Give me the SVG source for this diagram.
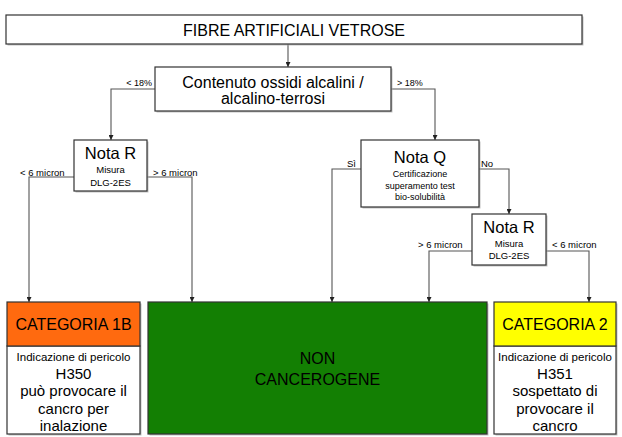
<svg xmlns="http://www.w3.org/2000/svg" width="622" height="437" viewBox="0 0 622 437">
<style>
text{font-family:"Liberation Sans",Arial,sans-serif;fill:#000}
.box{fill:#fff;stroke:#333;stroke-width:1.2}
.sh{fill:#aaa;opacity:.7}
.conn{fill:none;stroke:#555;stroke-width:1.1}
.big{font-size:16px}
.nota{font-size:16.5px}
.mid{font-size:15px}
.sm{font-size:9.5px}
.xs{font-size:9px}
.lab{font-size:11.5px}
.c{text-anchor:middle}
</style>
<defs>
<marker id="ah" viewBox="0 0 8 8" refX="8" refY="4" markerWidth="5" markerHeight="5" orient="auto" markerUnits="userSpaceOnUse">
<path d="M0,0 L8,4 L0,8 z" fill="#222"/>
</marker>
</defs>
<rect width="622" height="437" fill="#fff"/>

<g id="connectors">
<path class="conn" d="M288,44 V67" marker-end="url(#ah)"/>
<path class="conn" d="M155,89 H111 V140" marker-end="url(#ah)"/>
<path class="conn" d="M391,89 H435 V140" marker-end="url(#ah)"/>
<path class="conn" d="M74,177 H29 V302" marker-end="url(#ah)"/>
<path class="conn" d="M147,177 H192 V302" marker-end="url(#ah)"/>
<path class="conn" d="M361,169 H332 V302" marker-end="url(#ah)"/>
<path class="conn" d="M479,169 H509 V214" marker-end="url(#ah)"/>
<path class="conn" d="M472,251 H429 V302" marker-end="url(#ah)"/>
<path class="conn" d="M546,251 H589 V302" marker-end="url(#ah)"/>
<text class="xs" x="152" y="86" text-anchor="end">&lt; 18%</text>
<text class="xs" x="397" y="86">&gt; 18%</text>
<text class="sm" x="20" y="175.5">&lt; 6 micron</text>
<text class="sm" x="153" y="175.5">&gt; 6 micron</text>
<text class="sm" x="347" y="166.5">Sì</text>
<text class="sm" x="481" y="166.5">No</text>
<text class="sm" x="418" y="247.5">&gt; 6 micron</text>
<text class="sm" x="552" y="247.5">&lt; 6 micron</text>
</g>

<g id="fibre">
<rect class="sh" x="7.5" y="16.5" width="576" height="29"/>
<rect class="box" x="6" y="15" width="576" height="29"/>
<text class="big c" x="294" y="36">FIBRE ARTIFICIALI VETROSE</text>
</g>

<g id="contenuto">
<rect class="sh" x="156.5" y="68.5" width="236" height="44"/>
<rect class="box" x="155" y="67" width="236" height="44"/>
<text class="big c" x="273" y="87.5">Contenuto ossidi alcalini /</text>
<text class="big c" x="273" y="103.5">alcalino-terrosi</text>
</g>

<g id="notaR1">
<rect class="sh" x="75.5" y="141.5" width="73" height="51"/>
<rect class="box" x="74" y="140" width="73" height="51"/>
<text class="nota c" x="110.5" y="159">Nota R</text>
<text class="sm c" x="110.5" y="172.5">Misura</text>
<text class="sm c" x="110.5" y="185.5">DLG-2ES</text>
</g>

<g id="notaQ">
<rect class="sh" x="362.5" y="141.5" width="118" height="67"/>
<rect class="box" x="361" y="140" width="118" height="67"/>
<text class="nota c" x="420" y="163">Nota Q</text>
<text class="xs c" x="420" y="176.5">Certificazione</text>
<text class="xs c" x="420" y="188.5">superamento test</text>
<text class="xs c" x="420" y="200">bio-solubilità</text>
</g>

<g id="notaR2">
<rect class="sh" x="473.5" y="215.5" width="74" height="51"/>
<rect class="box" x="472" y="214" width="74" height="51"/>
<text class="nota c" x="509" y="233">Nota R</text>
<text class="sm c" x="509" y="246.5">Misura</text>
<text class="sm c" x="509" y="258.5">DLG-2ES</text>
</g>

<g id="cat1b">
<rect class="sh" x="8.5" y="303.5" width="133" height="132"/>
<rect class="box" x="7" y="346" width="133" height="88"/>
<rect class="box" x="7" y="302" width="133" height="44" style="fill:#ff6a0f"/>
<text class="big c" x="73.5" y="330">CATEGORIA 1B</text>
<text class="lab c" x="73.5" y="361">Indicazione di pericolo</text>
<text class="mid c" x="73.5" y="378.5">H350</text>
<text class="mid c" x="73.5" y="396">può provocare il</text>
<text class="mid c" x="73.5" y="413.5">cancro per</text>
<text class="mid c" x="73.5" y="431">inalazione</text>
</g>

<g id="noncancerogene">
<rect class="sh" x="149.5" y="303.5" width="339" height="132"/>
<rect class="box" x="148" y="302" width="339" height="132" style="fill:#137f03"/>
<text class="big c" x="317.5" y="364">NON</text>
<text class="big c" x="317.5" y="385">CANCEROGENE</text>
</g>

<g id="cat2">
<rect class="sh" x="495.5" y="303.5" width="122" height="132"/>
<rect class="box" x="494" y="346" width="122" height="88"/>
<rect class="box" x="494" y="302" width="122" height="44" style="fill:#ffff00"/>
<text class="big c" x="555" y="330">CATEGORIA 2</text>
<text class="lab c" x="555" y="361">Indicazione di pericolo</text>
<text class="mid c" x="555" y="378.5">H351</text>
<text class="mid c" x="555" y="396">sospettato di</text>
<text class="mid c" x="555" y="413.5">provocare il</text>
<text class="mid c" x="555" y="431">cancro</text>
</g>
</svg>
